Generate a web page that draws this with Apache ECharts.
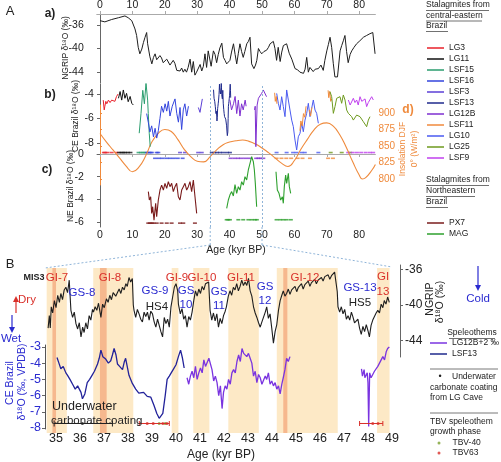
<!DOCTYPE html>
<html><head><meta charset="utf-8">
<script src="https://cdn.jsdelivr.net/npm/echarts@6/dist/echarts.min.js"></script>
<style>html,body{margin:0;padding:0;background:#fff}#c{width:501px;height:462px}</style>
</head><body><div id="c"></div>
<script>
// ---------------- Panel A data ----------------
const ageTicksA = [0,10,20,30,40,50,60,70,80];
const ngripAgeA = [0,1.5,3.6,5.7,7.7,8.7,9.8,10.8,11.3,11.8,12.3,12.9,13.4,13.9,14.4,14.7,15.4,16.0,16.5,17.0,17.5,18.0,18.5,19.0,19.5,20.1,20.6,21.1,21.6,22.1,22.6,23.1,23.7,24.2,24.7,25.2,25.7,26.2,26.7,27.2,27.8,28.3,28.8,29.3,29.8,30.3,30.9,31.4,31.9,32.4,32.9,33.4,34.3,35.0,35.5,36.0,36.5,37.0,37.6,38.1,38.6,39.1,39.6,40.1,40.6,41.2,41.7,42.2,42.7,43.2,43.7,44.2,44.7,45.3,45.8,46.3,46.8,47.5,48.0,48.4,48.9,49.4,49.9,50.6,51.4,52.0,52.5,53.0,53.5,54.0,54.5,55.0,55.6,56.1,56.6,57.1,57.6,58.4,59.2,60.2,61.0,61.7,62.3,62.8,63.3,63.8,64.3,64.8,65.3,65.8,66.4,66.9,67.4,68.2,68.9,69.4,70.0,70.5,71.0,71.5,72.0,72.5,73.3,74.1,74.6,75.1,75.6,76.1,76.6,77.2,77.7,78.4,79.2,80.2,80.8,81.3,82.3,83.3,84.2,84.9];
const ngripA = [-35.3,-35.5,-35.1,-34.8,-34.5,-34.8,-35.3,-36.7,-37.8,-39.8,-40.9,-40.1,-39.0,-38.1,-37.3,-39.2,-41.4,-42.6,-41.5,-40.9,-41.9,-41.8,-41.2,-41.6,-42.4,-42.3,-41.8,-42.0,-42.8,-42.9,-42.0,-42.5,-43.7,-43.4,-43.8,-43.3,-44.0,-43.5,-44.0,-43.2,-41.8,-44.0,-42.2,-44.5,-44.0,-44.3,-42.7,-43.8,-43.0,-40.9,-43.2,-40.4,-43.0,-40.4,-41.0,-42.4,-41.0,-39.9,-39.1,-41.5,-42.0,-42.6,-42.8,-42.0,-40.6,-39.2,-41.0,-42.6,-40.8,-39.2,-40.5,-41.5,-40.5,-39.2,-38.8,-38.1,-42.6,-43.4,-42.8,-42.0,-40.0,-40.5,-40.9,-40.5,-40.3,-39.8,-39.2,-39.5,-38.8,-40.0,-42.0,-39.8,-42.2,-40.6,-39.5,-39.8,-39.2,-40.8,-41.8,-43.4,-43.6,-44.0,-43.7,-44.2,-43.5,-41.5,-44.0,-43.2,-43.4,-43.9,-43.5,-43.2,-43.4,-42.8,-43.7,-42.0,-40.4,-39.3,-38.1,-39.8,-42.5,-44.8,-44.8,-40.4,-39.5,-38.7,-37.8,-40.5,-42.4,-41.0,-40.4,-39.8,-39.2,-38.7,-38.5,-38.1,-37.8,-37.5,-37.3,-40.9];

const lg3Age = [1.0,1.3,1.5,1.8,2.1,2.6,3.1,3.6,4.1,4.6,5.1,5.6];
const lg3 = [-4.5,-5.3,-5.0,-4.6,-4.8,-4.5,-4.7,-4.5,-4.35,-4.6,-4.2,-4.0];
const lg11Age = [5.7,6.2,6.7,7.2,7.7,8.2,8.7,9.3,9.8,10.3];
const lg11 = [-4.35,-3.8,-4.5,-3.67,-4.35,-3.95,-4.63,-4.2,-4.76,-4.9];
const lsf15Age = [12.1,12.65,13.2,13.7,14.2,14.7,14.9,15.2,15.5];
const lsf15 = [-7.2,-5.6,-3.7,-4.8,-3.1,-4.5,-5.6,-7.2,-8.3];
const lsf16Age = [14.4,14.9,15.4,15.95,16.5,17.0,17.5,18.0,18.5,19.0,19.55,20.1,20.6,21.1,21.6,22.3,23.15,23.7,24.2,24.7,25.2,25.7,26.2,26.75,27.3];
const lsf16 = [-5.6,-6.3,-7.1,-6.6,-7.5,-6.8,-7.6,-7.0,-6.0,-5.0,-5.5,-4.8,-5.4,-4.6,-5.8,-5.0,-4.4,-5.6,-6.3,-5.1,-6.9,-5.3,-4.8,-5.8,-5.0];
const lsf3Age = [30.35,30.86,31.58];
const lsf3 = [-5.1,-5.5,-4.4];
const lg12bAge1 = [40.1,40.6,41.2,41.7,42.2,42.7,43.2,43.7,44.2,44.8,45.1];
const lg12b1 = [-4.5,-5.3,-4.8,-4.2,-5.6,-4.5,-5.8,-4.8,-5.3,-4.5,-5.0];
const lg12bAge2 = [47.7,47.9,48.1,48.5,48.9,49.4,49.9,50.4,50.9,51.4];
const lg12b2 = [-5.3,-5.0,-8.3,-4.9,-4.35,-4.5,-3.95,-3.67,-3.54,-4.22];
const lsf11Age1 = [53.9,54.1,54.4,54.6];
const lsf11v1 = [-3.9,-4.6,-4.2,-4.8];
const lsf11Age2 = [61.7,62.0,62.4,62.8,63.2,63.6];
const lsf11v2 = [-7.0,-6.2,-6.6,-5.6,-5.9,-5.0];
const lsf11Age3 = [64.6,65.0,65.4];
const lsf11v3 = [-5.3,-5.8,-5.1];
const lsf11Age4 = [70.4,70.6,70.9,71.2,71.5];
const lsf11v4 = [-3.7,-4.3,-3.8,-4.6,-4.4];
const lg10Age = [54.53,55.04,55.56,56.07,56.58,57.1,57.61,58.13,58.64,59.16,59.67,60.19,60.7,61.21,61.73,62.24,62.76,63.27,63.79,64.3,64.81,65.33,65.84,66.36,66.87,67.39];
const lg10 = [-3.95,-4.76,-5.31,-4.22,-5.03,-5.85,-3.67,-4.49,-5.31,-6.13,-6.67,-7.76,-8.57,-7.49,-7.21,-6.39,-7.08,-6.13,-5.58,-4.76,-5.85,-5.17,-4.49,-5.31,-5.58,-6.39];
const lg25Age = [70.99,71.5,72.02,72.53,73.05,73.56,74.07,74.59,75.1,75.62,76.13,76.65,77.16,77.67,78.19,79.22,80.25,81.28,82.3,82.82,83.33];
const lg25 = [-3.81,-4.22,-5.58,-5.03,-4.35,-4.49,-4.22,-4.76,-4.08,-4.49,-5.31,-5.58,-5.44,-5.85,-6.13,-5.72,-5.85,-6.26,-6.67,-6.13,-5.85];
const lsf9Age = [76.65,77.2,77.67,78.19,78.7,79.22,79.7,80.25,80.8,81.28,81.8,82.3,82.8,83.33,83.85,84.36];
const lsf9 = [-4.49,-4.9,-4.76,-4.35,-4.7,-4.49,-4.9,-4.22,-4.6,-4.63,-4.4,-5.03,-4.7,-4.76,-4.22,-4.49];
const px7Age = [14.92,15.23,15.64,15.95,16.26,16.67,17.18,17.49,18.0,18.52,19.03,19.55,20.06,20.58,21.09,21.6,22.12,22.63,23.15,23.66,24.18,24.69,25.21,25.72,26.23,26.75,27.26,27.78,28.29,28.81,29.32,29.84];
const px7 = [-3.32,-4.06,-3.77,-5.24,-4.65,-5.83,-4.35,-5.53,-4.06,-3.18,-2.74,-3.18,-2.59,-3.03,-2.44,-2.88,-2.59,-3.32,-2.88,-2.59,-3.77,-4.06,-3.18,-2.88,-2.59,-3.18,-2.88,-2.44,-3.32,-2.29,-3.77,-5.24];
const magAge1 = [39.1,39.61,40.12,40.64,41.15,41.67,42.18,42.7,43.21,43.72,44.24,44.75,45.27,45.78,46.3,46.81,47.33,47.64,47.94,48.35];
const mag1 = [-4.79,-4.06,-3.6,-3.32,-3.7,-2.7,-3.47,-2.88,-3.18,-2.44,-2.74,-2.0,-2.29,-1.41,-0.82,-0.24,-0.68,-1.41,-2.59,-4.65];
const magAge2 = [54.32,54.73,55.25,55.76,56.28,56.58,56.89,57.3,57.61,58.13,58.44,58.85];
const mag2 = [-1.56,-3.18,-3.47,-4.06,-3.77,-4.35,-2.88,-1.85,-2.59,-1.71,-2.88,-3.47];
const insolAge = [0,2,4,6,8,10,12,14,16,18,20,22,24,26,28,30,32,34,36,38,40,42,44,46,48,50,52,54,56,58,60,62,64,66,68,70,72,74,76,78,80,81,82,84,85];
const insol = [869,856,844,832,820,811,818,834,856,869,875,872,860,845,834,827,826,834,844,852,856,858,859,857,853,847,840,832,824,819,828,845,860,874,883,885,880,867,848,826,806,800,802,814,822];
// dating rows (ages)
const dLG3 = [1.2,1.6,2.3,3.6,5.1];
const dLG11 = [5.9,6.6,7.2,7.8,8.6,9.4];
const dLSF15 = [11.9,12.6,13.3,13.9];
const dLSF16a = [14.5,15.0,15.6,16.0,17.5,18.0];
const dLSF16b = [17.0,18.2,19.3,20.5,21.6,22.8,24.0,25.5];
const dLSF3 = [24.7,26.2,30.3,31.4];
const dLSF13 = [34.5,35.3,36.1,37.0,38.0,39.2,40.1];
const dLG12B = [40.3,41.5,42.6,43.6,44.8,46.0,48.2,48.9,49.6,50.4];
const dLG10 = [54.5,57.6,59.6,60.7,62.2,63.2,67.4];
const dLSF11 = [54.5,56.0,57.5,59.0,61.0,62.5,64.8,70.4,71.9];
const dLG25 = [71.2,74.6,77.2];
const dLSF9 = [76.6,78.0,79.3,80.6,82.0,83.3,84.3];
const dPX7 = [14.9,15.4,16.0,16.5,17.5,19.0,20.6,22.1,24.7,25.7,29.3];
const dMAG = [39.1,39.6,40.1,42.7,44.2,45.8,46.8,47.8,48.4,54.5,55.6,56.6,57.6,58.9];

// ---------------- Panel B data ----------------
const ageTicksB = [35,36,37,38,39,40,41,42,43,44,45,46,47,48,49];
const ngripAgeB = [34.67,34.72,34.76,34.8,34.86,34.93,35.0,35.07,35.14,35.2,35.27,35.34,35.41,35.48,35.55,35.62,35.69,35.76,35.83,35.9,35.97,36.04,36.11,36.17,36.24,36.31,36.38,36.45,36.52,36.56,36.63,36.7,36.77,36.87,36.94,37.01,37.1,37.17,37.24,37.31,37.38,37.42,37.49,37.56,37.63,37.7,37.77,37.84,37.91,37.97,38.04,38.11,38.18,38.22,38.25,38.32,38.39,38.46,38.53,38.6,38.67,38.74,38.81,38.88,38.95,39.02,39.09,39.16,39.23,39.3,39.37,39.44,39.51,39.58,39.65,39.72,39.79,39.86,39.93,40.0,40.07,40.1,40.18,40.25,40.32,40.39,40.46,40.53,40.6,40.67,40.74,40.81,40.88,40.95,41.02,41.09,41.16,41.23,41.3,41.36,41.42,41.49,41.56,41.63,41.7,41.77,41.84,41.91,41.98,42.05,42.1,42.18,42.25,42.32,42.39,42.46,42.53,42.6,42.67,42.74,42.81,42.88,42.95,43.02,43.09,43.16,43.23,43.3,43.37,43.44,43.51,43.58,43.65,43.72,43.78,43.85,43.92,43.99,44.06,44.13,44.2,44.27,44.34,44.41,44.47,44.54,44.61,44.68,44.75,44.82,44.89,44.96,45.03,45.1,45.16,45.23,45.3,45.37,45.44,45.51,45.58,45.64,45.71,45.78,45.85,45.92,45.99,46.06,46.13,46.2,46.27,46.34,46.41,46.48,46.54,46.61,46.68,46.72,46.75,46.82,46.89,46.96,47.03,47.1,47.17,47.24,47.31,47.37,47.44,47.51,47.58,47.65,47.72,47.79,47.86,47.93,48.0,48.06,48.13,48.2,48.27,48.34,48.41,48.48,48.55,48.62,48.68,48.75,48.82,48.89];
const ngripB = [-42.6,-41.2,-42.6,-40.2,-40.9,-39.5,-40.3,-38.9,-39.7,-38.7,-39.4,-38.3,-38.0,-38.6,-37.2,-40.6,-41.4,-40.8,-42.1,-42.7,-42.0,-43.6,-42.5,-43.1,-42.0,-42.7,-41.2,-41.7,-40.5,-40.8,-40.2,-40.6,-39.8,-41.4,-39.9,-40.3,-39.3,-39.7,-38.9,-39.4,-38.6,-38.4,-39.0,-38.6,-38.2,-38.7,-38.0,-38.3,-37.6,-37.9,-36.9,-37.4,-37.0,-40.0,-40.6,-41.4,-40.5,-41.0,-41.6,-41.9,-40.8,-41.3,-40.8,-41.7,-40.7,-41.0,-41.9,-42.5,-41.6,-41.7,-43.0,-43.6,-41.4,-42.1,-41.6,-42.5,-40.2,-39.1,-38.0,-37.6,-38.4,-39.9,-41.0,-40.4,-41.6,-41.2,-42.5,-41.3,-41.7,-40.8,-39.5,-38.4,-39.0,-38.2,-38.7,-37.9,-38.3,-37.6,-37.8,-37.4,-40.6,-41.7,-40.9,-41.8,-41.0,-42.5,-41.5,-42.1,-41.2,-40.7,-40.2,-39.0,-38.4,-38.9,-38.0,-38.3,-37.6,-38.4,-37.9,-37.2,-37.8,-37.4,-37.8,-37.0,-38.4,-39.0,-40.2,-40.9,-41.4,-42.0,-42.5,-41.9,-41.7,-40.8,-40.2,-41.5,-41.0,-42.6,-44.3,-43.0,-42.2,-40.6,-39.5,-38.9,-38.4,-39.0,-38.7,-38.2,-38.8,-38.3,-38.4,-37.9,-38.5,-38.0,-38.0,-37.6,-38.2,-37.7,-37.8,-37.3,-37.9,-37.5,-37.6,-37.1,-37.6,-37.2,-37.4,-36.9,-37.3,-36.8,-37.0,-36.6,-37.1,-36.7,-36.8,-36.3,-36.4,-38.5,-40.2,-40.8,-40.2,-41.0,-40.5,-41.6,-41.2,-41.7,-40.8,-41.3,-42.0,-42.2,-41.6,-42.6,-43.3,-42.4,-43.0,-42.2,-42.9,-43.6,-42.3,-41.7,-41.9,-40.9,-40.6,-40.9,-39.9,-40.3,-39.5,-39.9,-39.1,-39.7];
const lsf13Age = [35.04,35.12,35.2,35.3,35.41,35.48,35.58,35.69,35.8,35.9,36.04,36.1,36.2,36.3,36.4,36.5,36.6,36.73,36.8,36.87,36.95,37.07,37.18,37.28,37.35,37.42,37.5,37.56,37.65,37.77,37.84,37.9,38.04,38.18,38.32,38.45,38.53,38.65,38.8,38.95,39.08,39.2,39.3,39.36,39.45,39.55,39.63,39.72,39.8,39.9,40.0,40.1,40.19,40.27,40.34];
const lsf13 = [-3.65,-4.0,-4.35,-4.2,-4.6,-4.75,-5.0,-5.3,-5.6,-5.4,-5.8,-6.2,-5.9,-5.2,-5.0,-4.75,-4.5,-4.05,-3.7,-3.2,-3.6,-3.75,-4.0,-3.85,-3.5,-3.1,-3.5,-4.05,-4.2,-4.4,-3.95,-3.7,-4.75,-5.25,-5.6,-5.85,-5.95,-5.8,-6.05,-6.1,-6.6,-7.1,-7.4,-7.4,-7.1,-6.0,-5.0,-4.8,-4.6,-4.35,-4.1,-3.6,-3.2,-3.7,-4.3];
const lg12bpAge1 = [40.46,40.53,40.6,40.67,40.74,40.81,40.88,40.95,41.02,41.09,41.16,41.23,41.3,41.37,41.43,41.5,41.57,41.64,41.71,41.78,41.85,41.92,41.98,42.05,42.12,42.19,42.26,42.33,42.4,42.47,42.54,42.61,42.68,42.75,42.82,42.88,42.95,43.02,43.09,43.16,43.23,43.3,43.37,43.44,43.51,43.58,43.65,43.72,43.78,43.85,43.92,43.99,44.06,44.13,44.2,44.27,44.34,44.41,44.47,44.54,44.61,44.68,44.75];
const lg12bp1 = [-4.9,-5.3,-4.8,-4.5,-4.9,-4.2,-5.0,-4.6,-4.3,-4.6,-3.8,-4.2,-4.1,-3.7,-3.8,-4.4,-5.1,-4.8,-5.2,-6.0,-5.4,-6.8,-5.8,-5.4,-5.6,-5.0,-5.3,-4.6,-4.4,-4.6,-3.9,-3.5,-3.9,-3.1,-3.4,-3.3,-3.6,-3.4,-3.7,-4.0,-4.8,-4.5,-5.2,-4.7,-4.9,-5.3,-5.2,-4.8,-5.0,-4.6,-5.3,-5.1,-5.4,-5.2,-5.6,-5.4,-5.9,-5.3,-4.9,-4.4,-3.7,-3.9,-3.6];
const lg12bpAge2 = [47.73,47.77,47.8,47.84,47.87,47.93,47.97,48.0,48.03,48.07,48.13,48.2,48.27,48.34,48.41,48.48,48.55,48.62,48.69,48.76,48.82,48.89];
const lg12bp2 = [-4.35,-4.8,-4.7,-4.4,-4.9,-5.0,-4.6,-5.2,-7.9,-4.6,-4.9,-4.7,-4.5,-4.4,-4.2,-4.1,-3.8,-3.6,-3.8,-3.3,-3.1,-3.0];
const giStart = [34.61,36.55,39.82,40.72,42.18,44.2,48.38];
const giEnd = [35.45,38.22,40.1,41.39,43.45,46.74,48.9];
const stripeStart = [34.85,36.83,44.47];
const stripeEnd = [35.0,37.11,44.64];
const coatingRange = [34.92,37.35];
const coatingAge = [36.1];
const tbvRange1 = [38.47,39.72];
const tbvRange2 = [47.65,48.62];
const tbv63Age = [38.8,39.05,39.45,39.62,48.2,48.42];
const tbv40Age = [39.3,39.55];

// ---------------- helpers ----------------
const F = 'Liberation Sans';
const zip = (a, b) => a.map((v, i) => [v, b[i]]);
const rowOf = (a, y) => a.map(v => [v, y]);
const C = {NG:'#1e1e1e', LG3:'#e8202a', LG11:'#111111', LSF15:'#2a9d6e', LSF16:'#3344dd', LSF3:'#5b3fd6',
  LSF13:'#1f2a8c', LG12B:'#7e2fd0', LSF11:'#f08a3c', LG10:'#4a5af0', LG25:'#6e9a1e', LSF9:'#c040ee',
  PX7:'#7a1c1c', MAG:'#2ea02e', INS:'#ef8a3c', BLUE:'#2a2ad0', RED:'#d9302a'};

function line(name, data, color, xi, yi, w) {
  return {type:'line', name, data, xAxisIndex:xi, yAxisIndex:yi, showSymbol:false, symbol:'none',
    lineStyle:{color, width:w||1}, itemStyle:{color}, animation:false, silent:true};
}
function dots(name, data, color, xi, yi, sym, size) {
  return {type:'scatter', name, data, xAxisIndex:xi, yAxisIndex:yi, symbol:sym||'rect', symbolSize:size||[4,1.6],
    itemStyle:{color}, animation:false, silent:true};
}
function T(x, y, s, o) {
  o = o || {};
  return {type:'text', x, y, rotation:o.rot||0, silent:true, z:100,
    style:{text:s, fill:o.color||'#222', font:(o.bold?'bold ':'')+(o.size||10)+'px "'+F+'"',
      align:o.align||'center', verticalAlign:'middle'}};
}
function L(x1, y1, x2, y2, color, w, dash) {
  return {type:'line', silent:true, z:100, shape:{x1,y1,x2,y2}, style:{stroke:color||'#333', lineWidth:w||0.8, lineDash:dash||null}};
}
function P(points, color) { return {type:'polygon', silent:true, z:100, shape:{points}, style:{fill:color}}; }

const xA = {min:-1, max:85};
const xB = {min:34.54, max:49.21};
const hidX = (gi, r) => ({gridIndex:gi, type:'value', min:r.min, max:r.max, show:false});
const yAx = (gi, min, max, vals, o) => Object.assign({gridIndex:gi, type:'value', min, max,
  axisLine:{show:true, lineStyle:{color:'#666', width:1}},
  axisTick:{show:true, length:3, customValues:vals, lineStyle:{color:'#666'}},
  axisLabel:{customValues:vals, fontSize:10.5, fontFamily:F, color:'#222', margin:3},
  splitLine:{show:false}}, o||{});

const bandData = giStart.map((s, i) => [{xAxis:s, itemStyle:{color:'#fde9c6'}}, {xAxis:giEnd[i]}])
  .concat(stripeStart.map((s, i) => [{xAxis:s, itemStyle:{color:'#f6b88e'}}, {xAxis:stripeEnd[i]}]));

const legText = {fontSize:8.5, color:'#222', lineHeight:11, fontFamily:F};
const option = {
  animation:false,
  textStyle:{fontFamily:F},
  grid:[
    {left:96.76, width:278.64, top:13, height:70},   // 0 a
    {left:96.76, width:278.64, top:84, height:76},   // 1 b
    {left:96.76, width:278.64, top:150, height:77},  // 2 c
    {left:96.76, width:278.64, top:105, height:80},  // 3 d
    {left:45, width:352, top:268, height:165},       // 4 bands
    {left:45, width:352, top:265, height:92},        // 5 NGRIP B
    {left:45, width:352, top:345, height:88}         // 6 CE B
  ],
  xAxis:[
    {gridIndex:0, type:'value', min:xA.min, max:xA.max, position:'top',
      axisLine:{show:true, lineStyle:{color:'#aaa'}}, axisTick:{show:true, length:3, customValues:ageTicksA, lineStyle:{color:'#aaa'}},
      axisLabel:{customValues:ageTicksA, fontSize:10.5, color:'#222', margin:3}, splitLine:{show:false}},
    hidX(1, xA),
    {gridIndex:2, type:'value', min:xA.min, max:xA.max,
      axisLine:{show:true, lineStyle:{color:'#aaa'}}, axisTick:{show:true, length:3, customValues:ageTicksA, lineStyle:{color:'#aaa'}},
      axisLabel:{customValues:ageTicksA, fontSize:10.5, color:'#222', margin:3}, splitLine:{show:false},
      name:'Age (kyr BP)', nameLocation:'middle', nameGap:18, nameTextStyle:{fontSize:10.5, color:'#222'}},
    hidX(3, xA),
    hidX(4, xB),
    hidX(5, xB),
    {gridIndex:6, type:'value', min:xB.min, max:xB.max,
      axisLine:{show:false}, axisTick:{show:false},
      axisLabel:{customValues:ageTicksB, fontSize:12.5, color:'#222', margin:3}, splitLine:{show:false},
      name:'Age (kyr BP)', nameLocation:'middle', nameGap:20, nameTextStyle:{fontSize:12, color:'#222'}}
  ],
  yAxis:[
    yAx(0, -45.83, -34.17, [-36,-40,-44], {offset:10}),
    yAx(1, -9.388, -3.184, [-4,-6,-8], {offset:0}),
    yAx(2, -6.441, 0.353, [0,-2,-4,-6], {offset:10}),
    yAx(3, 790.91, 912.12, [900,875,850,825,800], {position:'right', offset:1,
      axisLine:{show:true, lineStyle:{color:C.INS}}, axisTick:{show:true, length:2, customValues:[900,875,850,825,800], lineStyle:{color:C.INS}},
      axisLabel:{customValues:[900,875,850,825,800], fontSize:10, color:C.INS, margin:2}}),
    {gridIndex:4, type:'value', min:0, max:1, show:false},
    yAx(5, -45.86, -35.49, [-36,-40,-44], {position:'right', offset:3,
      axisLabel:{customValues:[-36,-40,-44], fontSize:12, color:'#222', margin:5}}),
    yAx(6, -8.059, -2.882, [-3,-4,-5,-6,-7,-8], {
      axisLine:{show:true, lineStyle:{color:'#555'}},
      axisLabel:{customValues:[-3,-4,-5,-6,-7,-8], fontSize:12.5, color:C.BLUE, margin:4}})
  ],
  legend:[
    {left:427, top:42.5, orient:'vertical', padding:0, itemGap:0, itemWidth:17, itemHeight:1.5, icon:'rect', selectedMode:false,
      textStyle:legText, data:['LG3','LG11','LSF15','LSF16','LSF3','LSF13','LG12B','LSF11','LG10','LG25','LSF9']},
    {left:427, top:217.5, orient:'vertical', padding:0, itemGap:0, itemWidth:17, itemHeight:1.5, icon:'rect', selectedMode:false,
      textStyle:legText, data:['PX7','MAG']},
    {left:430, top:337.5, orient:'vertical', padding:0, itemGap:0, itemWidth:17, itemHeight:1.5, icon:'rect', selectedMode:false,
      textStyle:legText, data:['LG12B+2 ‰','LSF13']},
    {left:437.5, top:438, orient:'vertical', padding:0, itemGap:0, itemWidth:3, itemHeight:3, icon:'circle', selectedMode:false,
      textStyle:{fontSize:8.5, color:'#222', lineHeight:10, padding:[0,0,0,7], fontFamily:F}, data:['TBV-40','TBV63']}
  ],
  series:[
    line('NGRIP', zip(ngripAgeA, ngripA), C.NG, 0, 0, 1),
    Object.assign(line('Insolation', zip(insolAge, insol), C.INS, 3, 3, 1.1), {smooth:true}),
    line('LG3', zip(lg3Age, lg3), C.LG3, 1, 1),
    line('LG11', zip(lg11Age, lg11), C.LG11, 1, 1),
    line('LSF15', zip(lsf15Age, lsf15), C.LSF15, 1, 1),
    line('LSF16', zip(lsf16Age, lsf16), C.LSF16, 1, 1),
    line('LSF3', zip(lsf3Age, lsf3), C.LSF3, 1, 1),
    line('LSF13', zip(lsf13Age, lsf13), C.LSF13, 1, 1),
    line('LG12B', zip(lg12bAge1, lg12b1), C.LG12B, 1, 1),
    line('LG12B', zip(lg12bAge2, lg12b2), C.LG12B, 1, 1),
    line('LG10', zip(lg10Age, lg10), C.LG10, 1, 1),
    line('LSF11', zip(lsf11Age1, lsf11v1), C.LSF11, 1, 1),
    line('LSF11', zip(lsf11Age2, lsf11v2), C.LSF11, 1, 1),
    line('LSF11', zip(lsf11Age3, lsf11v3), C.LSF11, 1, 1),
    line('LSF11', zip(lsf11Age4, lsf11v4), C.LSF11, 1, 1),
    line('LG25', zip(lg25Age, lg25), C.LG25, 1, 1),
    line('LSF9', zip(lsf9Age, lsf9), C.LSF9, 1, 1),
    Object.assign(line('guideB', [], '#8fb4d8', 1, 1), {markLine:{silent:true, symbol:'none', label:{show:false},
      lineStyle:{color:'#8fb4d8', type:[2,2], width:1}, data:[{xAxis:34}, {xAxis:50}]}}),
    Object.assign(line('guideC', [], '#8fb4d8', 2, 2), {markLine:{silent:true, symbol:'none', label:{show:false},
      lineStyle:{color:'#8fb4d8', type:[2,2], width:1}, data:[{xAxis:34}, {xAxis:50}]}}),
    dots('dLG3', rowOf(dLG3, -8.78), C.LG3, 1, 1),
    dots('dLG11', rowOf(dLG11, -8.78), C.LG11, 1, 1),
    dots('dLSF15', rowOf(dLSF15, -8.78), C.LSF15, 1, 1),
    dots('dLSF16a', rowOf(dLSF16a, -8.78), C.LSF16, 1, 1),
    dots('dLSF16b', rowOf(dLSF16b, -9.25), C.LSF16, 1, 1),
    dots('dLSF3', rowOf(dLSF3, -8.78), C.LSF3, 1, 1),
    dots('dLSF13', rowOf(dLSF13, -8.78), C.LSF13, 1, 1),
    dots('dLG12B', rowOf(dLG12B, -9.25), C.LG12B, 1, 1),
    dots('dLG10', rowOf(dLG10, -8.78), C.LG10, 1, 1),
    dots('dLSF11', rowOf(dLSF11, -9.25), C.LSF11, 1, 1),
    dots('dLG25', rowOf(dLG25, -8.78), C.LG25, 1, 1),
    dots('dLSF9', rowOf(dLSF9, -8.78), C.LSF9, 1, 1),
    line('PX7', zip(px7Age, px7), C.PX7, 2, 2, 1.1),
    line('MAG', zip(magAge1, mag1), C.MAG, 2, 2, 1.1),
    line('MAG', zip(magAge2, mag2), C.MAG, 2, 2, 1.1),
    dots('dPX7', rowOf(dPX7, -6.1), C.PX7, 2, 2),
    dots('dMAG', rowOf(dMAG, -5.8), C.MAG, 2, 2),
    {type:'line', name:'bands', xAxisIndex:4, yAxisIndex:4, data:[[35,0]], symbol:'none', lineStyle:{opacity:0}, silent:true, z:0,
      markArea:{silent:true, data:bandData}},
    line('NGRIP B', zip(ngripAgeB, ngripB), C.NG, 5, 5, 1.1),
    line('LSF13', zip(lsf13Age, lsf13), '#22229a', 6, 6, 1.3),
    line('LG12B+2 ‰', zip(lg12bpAge1, lg12bp1), '#7a34e0', 6, 6, 1.3),
    line('LG12B+2 ‰', zip(lg12bpAge2, lg12bp2), '#7a34e0', 6, 6, 1.3),
    Object.assign(line('coating', rowOf(coatingRange, -7.72), '#222', 6, 6, 1), {showSymbol:true, symbol:'rect', symbolSize:[1,6]}),
    dots('coatingDot', rowOf(coatingAge, -7.72), '#222', 6, 6, 'circle', 3),
    Object.assign(line('tbv1', rowOf(tbvRange1, -7.72), C.RED, 6, 6, 1), {showSymbol:true, symbol:'rect', symbolSize:[1,5]}),
    Object.assign(line('tbv2', rowOf(tbvRange2, -7.72), C.RED, 6, 6, 1), {showSymbol:true, symbol:'rect', symbolSize:[1,5]}),
    dots('TBV63', rowOf(tbv63Age, -7.72), C.RED, 6, 6, 'circle', 3),
    dots('TBV-40', rowOf(tbv40Age, -7.72), '#7aa030', 6, 6, 'circle', 3)
  ],
  graphic:[
    T(10,11,'A',{size:13}), T(10,264,'B',{size:13}),
    T(50,14,'a)',{size:12,bold:true}), T(50,95,'b)',{size:12,bold:true}), T(47,170,'c)',{size:12,bold:true}),
    T(408,110,'d)',{size:12,bold:true,color:C.INS}),
    T(66,48,'NGRIP δ¹⁸O (‰)',{size:8.5,rot:Math.PI/2}),
    T(76,116,'CE Brazil δ¹⁸O (‰)',{size:8.5,rot:Math.PI/2}),
    T(71,186,'NE Brazil δ¹⁸O (‰)',{size:8.5,rot:Math.PI/2}),
    T(403,149,'Insolation DJF',{size:8.5,rot:Math.PI/2,color:C.INS}),
    T(415,149,'0° (W/m²)',{size:8.5,rot:Math.PI/2,color:C.INS}),
    T(426,5,'Stalagmites from',{size:8.5,align:'left'}), L(426,10.5,489,10.5,'#333',0.7),
    T(426,15.5,'central-eastern',{size:8.5,align:'left'}), L(426,21,482,21,'#333',0.7),
    T(426,26,'Brazil',{size:8.5,align:'left'}), L(426,31.5,448,31.5,'#333',0.7),
    T(426,180,'Stalagmites from',{size:8.5,align:'left'}), L(426,185.5,489,185.5,'#333',0.7),
    T(426,191,'Northeastern',{size:8.5,align:'left'}), L(426,196.5,475,196.5,'#333',0.7),
    T(426,202,'Brazil',{size:8.5,align:'left'}), L(426,207.5,448,207.5,'#333',0.7),
    L(210.2,227,210.2,245,'#8fb4d8',1,[2,2]), L(262,227,262,245,'#8fb4d8',1,[2,2]),
    L(210.2,245,45,268,'#8fb4d8',1,[2,2]), L(262,245,392,267,'#8fb4d8',1,[2,2]),
    T(34,278,'MIS3',{size:9,bold:true}),
    T(57,278,'GI-7',{size:11.5,color:C.RED}), T(82,293,'GS-8',{size:11.5,color:C.BLUE}),
    T(110,278,'GI-8',{size:11.5,color:C.RED}),
    T(155,291,'GS-9',{size:11.5,color:C.BLUE}), T(157,307,'HS4',{size:11.5}),
    T(177,278,'GI-9',{size:11.5,color:C.RED}), T(202,278,'GI-10',{size:11.5,color:C.RED}),
    T(186,291,'GS',{size:11.5,color:C.BLUE}), T(186,305,'10',{size:11.5,color:C.BLUE}),
    T(219,292,'GS',{size:11.5,color:C.BLUE}), T(219,306,'11',{size:11.5,color:C.BLUE}),
    T(241,278,'GI-11',{size:11.5,color:C.RED}),
    T(265,287,'GS',{size:11.5,color:C.BLUE}), T(265,301,'12',{size:11.5,color:C.BLUE}),
    T(305,278,'GI-12',{size:11.5,color:C.RED}),
    T(360,288,'GS-13',{size:11.5,color:C.BLUE}), T(360,303,'HS5',{size:11.5}),
    T(383,277,'GI',{size:11.5,color:C.RED}), T(383,292,'13',{size:11.5,color:C.RED}),
    T(52,407,'Underwater',{size:12.5,align:'left'}), T(51,421,'carbonate coating',{size:11.5,align:'left'}),
    T(27,300,'Dry',{size:11.5,color:C.RED}), L(16,313,16,301,C.RED,1.2), P([[13,302],[19,302],[16,296]],C.RED),
    T(11,339,'Wet',{size:11.5,color:C.BLUE}), L(12,315,12,328,C.BLUE,1.2), P([[9,327],[15,327],[12,333]],C.BLUE),
    T(10,383,'CE Brazil',{size:10.5,rot:Math.PI/2,color:C.BLUE}),
    T(22,382,'δ¹⁸O (‰, VPDB)',{size:10.5,rot:Math.PI/2,color:C.BLUE}),
    T(430,299,'NGRIP',{size:10.5,rot:Math.PI/2}),
    T(440,302,'δ¹⁸O (‰)',{size:10.5,rot:Math.PI/2}),
    L(478,266,478,286,C.BLUE,1.2), P([[475,285],[481,285],[478,291]],C.BLUE),
    T(478,299,'Cold',{size:11.5,color:C.BLUE}),
    T(472,333,'Speleothems',{size:8.5}), L(449,338.5,495,338.5,'#333',0.7),
    L(430,369,498,369,'#555',0.8),
    T(440,377,'•',{size:9}), T(452,377,'Underwater',{size:8.5,align:'left'}),
    T(430,388,'carbonate coating',{size:8.5,align:'left'}),
    T(430,398,'from LG Cave',{size:8.5,align:'left'}),
    L(430,413,498,413,'#555',0.8),
    T(430,422,'TBV speleothem',{size:8.5,align:'left'}),
    T(430,432,'growth phase',{size:8.5,align:'left'})
  ]
};
const chart = echarts.init(document.getElementById('c'), null, {renderer:'canvas'});
chart.setOption(option);
</script></body></html>
